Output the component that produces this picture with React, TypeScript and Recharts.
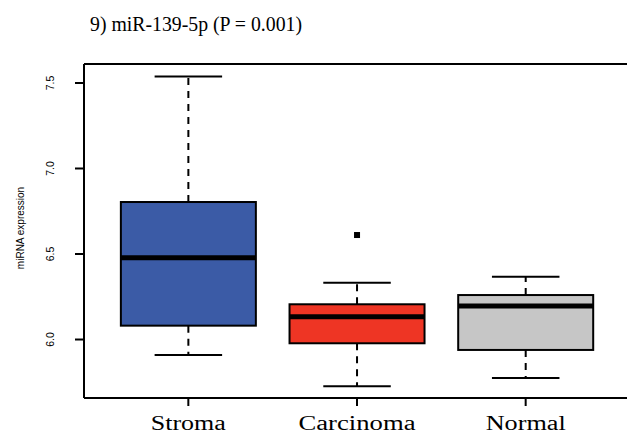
import React from 'react';
import { ComposedChart, Bar, XAxis, YAxis, ReferenceLine } from 'recharts';

// values
const categories = ['Stroma', 'Carcinoma', 'Normal'];
const lowerWhisker = [5.909, 5.726, 5.775];
const q1 = [6.081, 5.978, 5.939];
const median = [6.478, 6.133, 6.196];
const q3 = [6.804, 6.206, 6.26];
const upperWhisker = [7.538, 6.332, 6.367];
const outliers = [[], [6.611], []];
const yTicks = [6.0, 6.5, 7.0, 7.5];
const yDomain = [5.658, 7.611];

const boxColors = ['#3B5BA6', '#EE3524', '#C6C6C6'];
const labelWidths = [75, 117, 80];

const data = categories.map((name, i) => ({
  name,
  box: [q1[i], q3[i]],
  lo: lowerWhisker[i],
  med: median[i],
  hi: upperWhisker[i],
  out: outliers[i],
}));

function BoxShape(props: any) {
  const { x, y, width, height, payload, index } = props;
  const [b0, b1] = payload.box;
  const k = height / (b1 - b0);
  const py = (v: number) => y + (b1 - v) * k;
  const cx = x + width / 2;
  const cap = width / 4;
  return (
    <g>
      <line x1={cx} x2={cx} y1={py(b1)} y2={py(payload.hi)} stroke="#000" strokeWidth={2} strokeDasharray="7 6" />
      <line x1={cx} x2={cx} y1={py(b0)} y2={py(payload.lo)} stroke="#000" strokeWidth={2} strokeDasharray="7 6" />
      <line x1={cx - cap} x2={cx + cap} y1={py(payload.hi)} y2={py(payload.hi)} stroke="#000" strokeWidth={2} />
      <line x1={cx - cap} x2={cx + cap} y1={py(payload.lo)} y2={py(payload.lo)} stroke="#000" strokeWidth={2} />
      <rect x={x} y={y} width={width} height={height} fill={boxColors[index]} stroke="#000" strokeWidth={2} />
      <line x1={x} x2={x + width} y1={py(payload.med)} y2={py(payload.med)} stroke="#000" strokeWidth={5} />
      {payload.out.map((v: number, j: number) => (
        <rect key={j} x={cx - 3} y={py(v) - 3} width={6} height={6} fill="#000" />
      ))}
    </g>
  );
}

function YTick(props: any) {
  const { x, y, payload } = props;
  return (
    <text x={x} y={y} transform={`rotate(-90, ${x}, ${y})`} textAnchor="middle"
      fontFamily="Liberation Sans, Arial, sans-serif" fontSize={10.5} fill="#000">
      {Number(payload.value).toFixed(1)}
    </text>
  );
}

function XTick(props: any) {
  const { x, payload, index } = props;
  const w = labelWidths[index];
  return (
    <text x={x - w / 2} y={430} textLength={w} lengthAdjust="spacingAndGlyphs"
      fontFamily="Liberation Serif, Times New Roman, serif" fontSize={20} fill="#000">
      {payload.value}
    </text>
  );
}

function YLabel(props: any) {
  const { viewBox } = props;
  const cy = viewBox.y + viewBox.height / 2 - 3;
  return (
    <text x={24} y={cy} transform={`rotate(-90, 24, ${cy})`} textAnchor="middle"
      fontFamily="Liberation Sans, Arial, sans-serif" fontSize={10} fill="#000">
      miRNA expression
    </text>
  );
}

export default function App() {
  return (
    <div style={{ position: 'fixed', left: 0, top: 0, width: 627, height: 435, overflow: 'hidden', background: '#fff' }}>
      <svg width={627} height={50} style={{ position: 'absolute', left: 0, top: 0 }}>
        <text x={90} y={31} textLength={212} lengthAdjust="spacingAndGlyphs"
          fontFamily="Liberation Serif, Times New Roman, serif" fontSize={20} fill="#000">
          9) miR-139-5p (P = 0.001)
        </text>
      </svg>
      <div style={{ position: 'absolute', left: 0, top: 0 }}>
        <ComposedChart width={660} height={435} data={data} barCategoryGap="10%"
          margin={{ top: 64, right: 30, left: 0, bottom: 0 }}>
          <XAxis dataKey="name" height={37} padding={{ left: 20, right: 20 }}
            axisLine={{ stroke: '#000', strokeWidth: 2 }}
            tickLine={{ stroke: '#000', strokeWidth: 2 }} tickSize={8}
            tick={<XTick />} interval={0} />
          <YAxis width={84} type="number" domain={yDomain} allowDataOverflow
            ticks={yTicks} axisLine={{ stroke: '#000', strokeWidth: 2 }}
            tickLine={{ stroke: '#000', strokeWidth: 2 }} tickSize={9} tickMargin={21}
            tick={<YTick />} label={<YLabel />} />
          <ReferenceLine y={yDomain[1]} stroke="#000" strokeWidth={2} ifOverflow="visible" />
          <Bar dataKey="box" shape={<BoxShape />} isAnimationActive={false} />
        </ComposedChart>
      </div>
    </div>
  );
}
